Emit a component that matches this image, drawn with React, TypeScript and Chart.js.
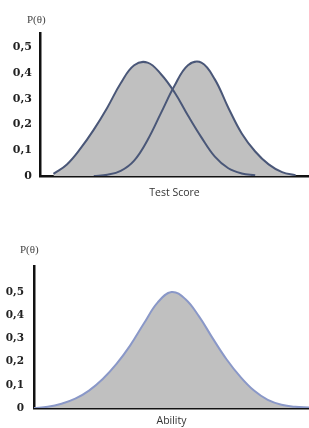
import { useEffect, useRef } from "react";
import { Chart, registerables } from "chart.js";

Chart.register(...registerables);

// ---- Data ----
const scoreX = [0, 5, 10, 15, 20, 25, 30, 35, 40, 45, 50, 55, 60, 65, 70, 75, 80, 85, 90, 95, 100];
const testScoreLow = [null, 0.008, 0.045, 0.106, 0.18, 0.265, 0.36, 0.43, 0.44, 0.395, 0.325, 0.235, 0.15, 0.075, 0.03, 0.01, 0.003, null, null, null, null];
const testScoreHigh = [null, null, null, null, 0.0, 0.005, 0.02, 0.06, 0.14, 0.245, 0.35, 0.43, 0.44, 0.375, 0.265, 0.165, 0.095, 0.045, 0.015, 0.003, null];

const abilityX = [0, 5, 10, 15, 20, 25, 30, 35, 40, 45, 50, 55, 60, 65, 70, 75, 80, 85, 90, 95, 100];
const abilityCurve = [0.0, 0.005, 0.018, 0.04, 0.075, 0.125, 0.19, 0.27, 0.365, 0.455, 0.5, 0.47, 0.395, 0.3, 0.21, 0.135, 0.075, 0.035, 0.014, 0.005, 0.002];

const yTickValues = [0, 0.1, 0.2, 0.3, 0.4, 0.5];
const yAxisLabel = "P(θ)";
const topXLabel = "Test Score";
const bottomXLabel = "Ability";

type PanelProps = {
  top: number;
  height: number;
  xs: number[];
  series: (number | null)[][];
  lineColor: string;
  yMax: number;
  padTop: number;
  axisLeft: number;
  axisHeight: number;
  tickPad: number;
  tickSize: number;
  xLabel: string;
  pLabelDx: number;
  pLabelDy: number;
};

function Panel(p: PanelProps) {
  const ref = useRef<HTMLCanvasElement | null>(null);
  useEffect(() => {
    if (!ref.current) return;
    const pLabelPlugin = {
      id: "pLabel",
      afterDraw(chart: any) {
        const ctx = chart.ctx;
        const a = chart.chartArea;
        ctx.save();
        ctx.font = "11px 'Liberation Serif'";
        ctx.fillStyle = "#444";
        ctx.textAlign = "left";
        ctx.textBaseline = "middle";
        ctx.fillText(yAxisLabel, a.left + p.pLabelDx, a.top + p.pLabelDy);
        ctx.restore();
      },
    };
    const chart = new Chart(ref.current, {
      type: "line",
      data: {
        datasets: p.series.map((s) => ({
          data: p.xs.map((x, i) => ({ x, y: s[i] })) as any,
          borderColor: p.lineColor,
          borderWidth: 2,
          backgroundColor: "#c0c0c0",
          fill: "origin",
          pointRadius: 0,
          tension: 0.4,
          spanGaps: false,
        })),
      },
      options: {
        animation: false,
        responsive: false,
        devicePixelRatio: 1,
        layout: { padding: { top: p.padTop, left: 0, right: 0, bottom: 0 } },
        plugins: {
          legend: { display: false },
          tooltip: { enabled: false },
          filler: { drawTime: "beforeDatasetsDraw" } as any,
        },
        scales: {
          x: {
            type: "linear",
            min: 0,
            max: 100,
            grid: { display: false, drawTicks: false },
            ticks: { display: false },
            border: { display: true, color: "#111", width: 2.5 },
            title: {
              display: true,
              text: p.xLabel,
              color: "#333",
              font: { family: "'Open Sans'", size: 10.5 },
              padding: { top: 0, bottom: 1 },
            },
            afterFit: (s: any) => {
              s.height = p.axisHeight;
            },
          },
          y: {
            min: 0,
            max: p.yMax,
            grid: { display: false, drawTicks: false },
            border: { display: true, color: "#111", width: 2.5 },
            ticks: {
              padding: p.tickPad,
              color: "#222",
              font: { family: "'DejaVu Serif'", size: p.tickSize, weight: "bold" },
              callback: (v: any) => String(v).replace(".", ","),
            },
            afterBuildTicks: (s: any) => {
              s.ticks = yTickValues.map((v) => ({ value: v }));
            },
            afterFit: (s: any) => {
              s.width = p.axisLeft;
            },
          },
        },
      },
      plugins: [pLabelPlugin],
    });
    return () => chart.destroy();
  }, []);
  return (
    <canvas
      ref={ref}
      width={309}
      height={p.height}
      style={{ position: "absolute", left: 0, top: p.top, width: 309, height: p.height }}
    />
  );
}

export default function App() {
  return (
    <div style={{ position: "absolute", left: 0, top: 0, width: 309, height: 428, background: "#fff" }}>
      <Panel
        top={0}
        height={200}
        xs={scoreX}
        series={[testScoreLow, testScoreHigh]}
        lineColor="#4a5778"
        yMax={0.555}
        padTop={33}
        axisLeft={40}
        axisHeight={24}
        tickPad={8}
        tickSize={11}
        xLabel={topXLabel}
        pLabelDx={-13}
        pLabelDy={-13}
      />
      <Panel
        top={230}
        height={198}
        xs={abilityX}
        series={[abilityCurve]}
        lineColor="#8a98c8"
        yMax={0.612}
        padTop={36}
        axisLeft={34}
        axisHeight={20}
        tickPad={10}
        tickSize={10.5}
        xLabel={bottomXLabel}
        pLabelDx={-14}
        pLabelDy={-16}
      />
    </div>
  );
}
